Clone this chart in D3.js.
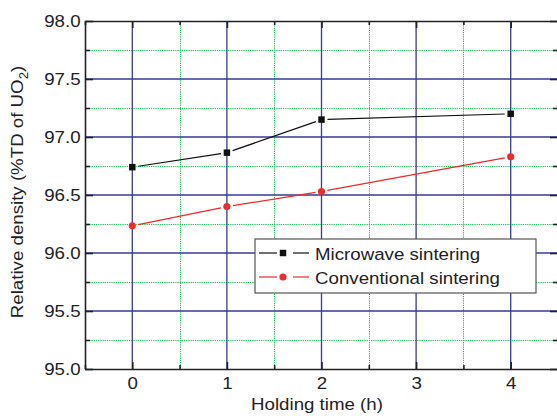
<!DOCTYPE html>
<html>
<head>
<meta charset="utf-8">
<script src="https://cdn.jsdelivr.net/npm/d3@7"></script>
<style>
  body { margin: 0; background: #fff; }
  text { font-family: "Liberation Sans", Arial, sans-serif; fill: #222; }
</style>
</head>
<body>
<div id="chart"></div>
<script>
// data
var hours = [0, 1, 2, 4];
var microwave = [96.74, 96.865, 97.15, 97.20];
var conventional = [96.235, 96.40, 96.53, 96.83];
var seriesNames = ["Microwave sintering", "Conventional sintering"];
var xTicks = [0, 1, 2, 3, 4];
var yTicks = [95.0, 95.5, 96.0, 96.5, 97.0, 97.5, 98.0];

var W = 557, H = 416;
var margin = { top: 21, right: -1, bottom: 47, left: 85 };
var stretch = "scale(1.1,1)"; // the reference font is a bit wider than Arial

var svg = d3.select("#chart").append("svg")
    .attr("width", W).attr("height", H);

var x = d3.scaleLinear().domain([-0.5, 4.5]).range([margin.left, W - margin.right]);
var y = d3.scaleLinear().domain([95, 98]).range([H - margin.bottom, margin.top]);

var x0 = x.range()[0], x1 = x.range()[1], y0 = y.range()[0], y1 = y.range()[1];
var px = v => Math.round(v) + 0.5;

// minor grid (green dotted)
var minorX = d3.range(-0.5, 4.51, 1);
var minorY = d3.range(95.25, 98, 0.5);
var gridMinor = svg.append("g")
    .attr("stroke", "#12c04e").attr("stroke-width", 1).attr("stroke-dasharray", "1.2,1");
gridMinor.selectAll(".vx").data(minorX.slice(1)).enter().append("line")
    .attr("x1", d => px(x(d))).attr("x2", d => px(x(d))).attr("y1", y1).attr("y2", y0);
gridMinor.selectAll(".hy").data(minorY).enter().append("line")
    .attr("y1", d => px(y(d))).attr("y2", d => px(y(d))).attr("x1", x0).attr("x2", x1);

// major grid (blue)
var gridMajor = svg.append("g").attr("stroke", "#363a98").attr("stroke-width", 1.3);
gridMajor.selectAll(".vx").data(xTicks).enter().append("line")
    .attr("x1", d => x(d)).attr("x2", d => x(d)).attr("y1", y0).attr("y2", y1);
gridMajor.selectAll(".hy").data(yTicks.slice(1, -1)).enter().append("line")
    .attr("y1", d => y(d)).attr("y2", d => y(d)).attr("x1", x0).attr("x2", x1);

// axes, ticks inward
function addAxis(axis, tx, ty) {
    var g = svg.append("g").attr("transform", `translate(${tx},${ty})`).call(axis);
    g.select(".domain").attr("stroke", "#222").attr("stroke-width", 1.6);
    g.selectAll(".tick line").attr("stroke", "#222").attr("stroke-width", 1.6);
    g.selectAll("text").style("font-size", "17px").attr("fill", "#222").attr("transform", stretch);
    return g;
}
addAxis(d3.axisBottom(x).tickValues(xTicks).tickSizeInner(-7).tickSizeOuter(0).tickPadding(8).tickFormat(d3.format("d")), 0, y0);
addAxis(d3.axisBottom(x).tickValues(minorX).tickSize(-4).tickFormat(""), 0, y0).select(".domain").remove();
addAxis(d3.axisTop(x).tickValues(xTicks).tickSizeInner(-7).tickSizeOuter(0).tickFormat(""), 0, y1);
addAxis(d3.axisTop(x).tickValues(minorX).tickSize(-4).tickFormat(""), 0, y1).select(".domain").remove();
addAxis(d3.axisLeft(y).tickValues(yTicks).tickSizeInner(-8).tickSizeOuter(0).tickPadding(4).tickFormat(d3.format(".1f")), x0, 0);
addAxis(d3.axisLeft(y).tickValues(minorY).tickSize(-5).tickFormat(""), x0, 0).select(".domain").remove();
addAxis(d3.axisRight(y).tickValues(yTicks).tickSizeInner(-8).tickSizeOuter(0).tickFormat(""), x1, 0);
addAxis(d3.axisRight(y).tickValues(minorY).tickSize(-5).tickFormat(""), x1, 0).select(".domain").remove();

// series lines with gaps around markers
function gappedSegments(xs, ys, gap) {
    var segs = [];
    for (var i = 0; i < xs.length - 1; i++) {
        var ax = x(xs[i]), ay = y(ys[i]), bx = x(xs[i + 1]), by = y(ys[i + 1]);
        var len = Math.hypot(bx - ax, by - ay), ux = (bx - ax) / len, uy = (by - ay) / len;
        segs.push([ax + ux * gap, ay + uy * gap, bx - ux * gap, by - uy * gap]);
    }
    return segs;
}
var series = [
    { name: seriesNames[0], values: microwave, color: "#111", symbol: d3.symbolSquare, size: 42 },
    { name: seriesNames[1], values: conventional, color: "#ee2a2a", symbol: d3.symbolCircle, size: 40 }
];
series.forEach(function (s) {
    svg.append("g").selectAll("line").data(gappedSegments(hours, s.values, 6)).enter().append("line")
        .attr("x1", d => d[0]).attr("y1", d => d[1]).attr("x2", d => d[2]).attr("y2", d => d[3])
        .attr("stroke", s.color).attr("stroke-width", 1.2);
    svg.append("g").selectAll("path").data(hours).enter().append("path")
        .attr("transform", (d, i) => `translate(${x(d)},${y(s.values[i])})`)
        .attr("d", d3.symbol().type(s.symbol).size(s.size))
        .attr("fill", s.color);
});

// legend
var lg = svg.append("g").attr("transform", "translate(255,239)");
lg.append("rect").attr("width", 281).attr("height", 54)
    .attr("fill", "#fff").attr("stroke", "#555").attr("stroke-width", 1.2);
series.forEach(function (s, i) {
    var cy = 14 + i * 24;
    lg.append("line").attr("x1", 4).attr("x2", 22).attr("y1", cy).attr("y2", cy)
        .attr("stroke", s.color).attr("stroke-width", 1.2);
    lg.append("line").attr("x1", 38).attr("x2", 54).attr("y1", cy).attr("y2", cy)
        .attr("stroke", s.color).attr("stroke-width", 1.2);
    lg.append("path").attr("transform", `translate(28,${cy})`)
        .attr("d", d3.symbol().type(s.symbol).size(s.size))
        .attr("fill", s.color);
    lg.append("text").attr("transform", `translate(60,${cy + 6.5}) ${stretch}`)
        .style("font-size", "17px").text(s.name);
});

// axis titles
svg.append("text").attr("transform", `translate(317,410) ${stretch}`)
    .attr("text-anchor", "middle").style("font-size", "17px").text("Holding time (h)");
var yl = svg.append("text").attr("transform", `translate(23,192) rotate(-90) ${stretch}`)
    .attr("text-anchor", "middle").style("font-size", "17px");
yl.append("tspan").text("Relative density (%TD of UO");
yl.append("tspan").attr("dy", 5).style("font-size", "12px").text("2");
yl.append("tspan").attr("dy", -5).text(")");
</script>
</body>
</html>
